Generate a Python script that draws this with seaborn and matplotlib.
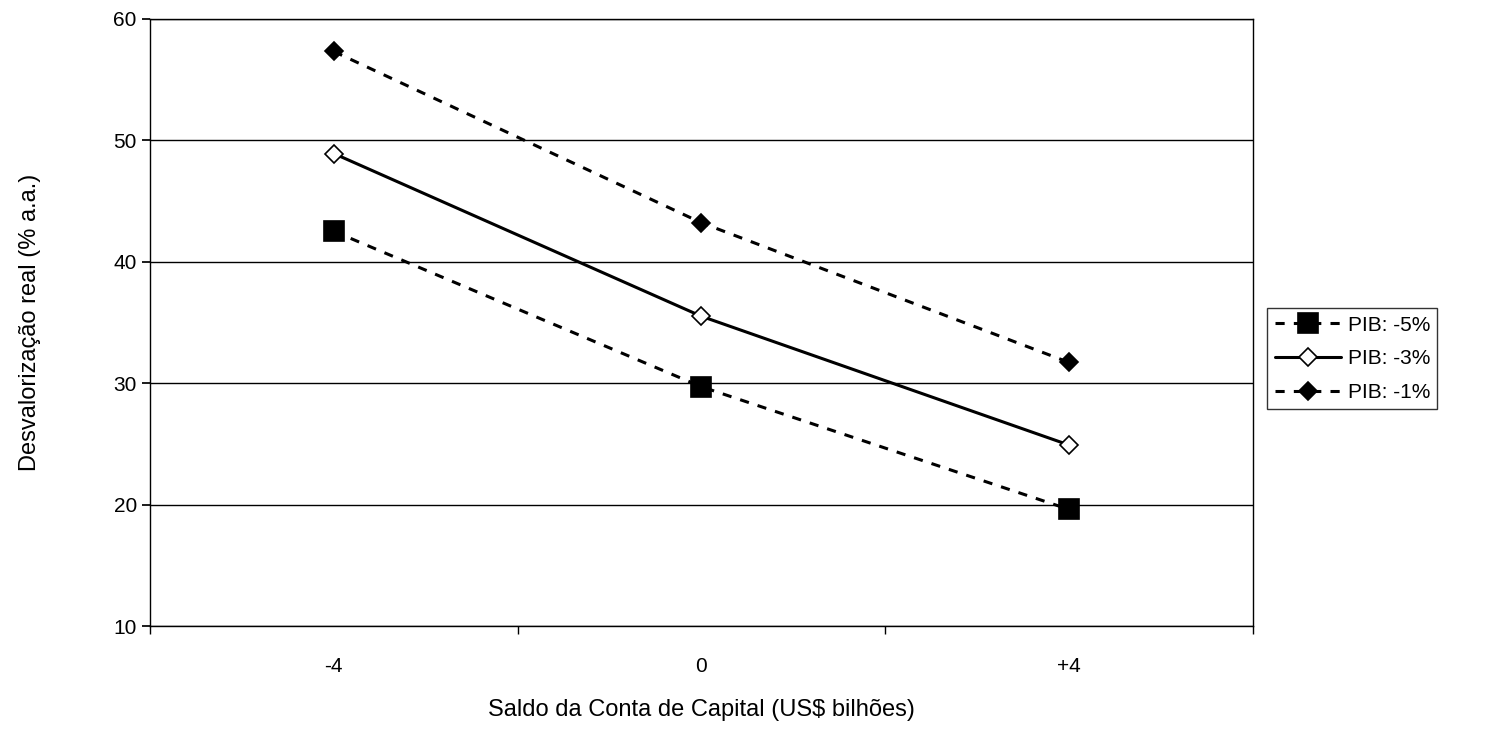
import matplotlib
matplotlib.use("Agg")
import matplotlib.pyplot as plt
import pandas as pd
import seaborn as sns

categories = ["-4", "0", "+4"]
pib_m5 = [42.5, 29.7, 19.6]
pib_m3 = [48.9, 35.5, 24.9]
pib_m1 = [57.3, 43.2, 31.7]
series_names = ["PIB: -5%", "PIB: -3%", "PIB: -1%"]

sns.set_theme(style="white")
plt.rcParams["font.family"] = ["Liberation Sans", "DejaVu Sans"]
plt.rcParams["text.color"] = "black"
plt.rcParams["axes.labelcolor"] = "black"
plt.rcParams["xtick.color"] = "black"
plt.rcParams["ytick.color"] = "black"

fig = plt.figure(figsize=(14.95, 7.48), dpi=100)
ax = fig.add_axes([0.1003, 0.163, 0.7378, 0.812])

xs = list(range(len(categories)))
styles = [
    dict(linestyle=(0, (3, 3)), marker="s", markersize=14, markerfacecolor="black"),
    dict(linestyle="-", marker="D", markersize=9, markerfacecolor="white"),
    dict(linestyle=(0, (3, 3)), marker="D", markersize=9, markerfacecolor="black"),
]
for name, vals, st in zip(series_names, [pib_m5, pib_m3, pib_m1], styles):
    df = pd.DataFrame({"x": xs, "y": vals})
    sns.lineplot(data=df, x="x", y="y", ax=ax, color="black", linewidth=2.2,
                 markeredgecolor="black", markeredgewidth=1.2, label=name, **st)

ax.set_xlim(-0.5, 2.5)
ax.set_ylim(10, 60)
ax.set_yticks(range(10, 61, 10))
ax.yaxis.grid(True, color="black", linewidth=1)
ax.set_axisbelow(True)
ax.set_xticks(xs)
ax.set_xticklabels(categories)
ax.set_xticks([-0.5, 0.5, 1.5, 2.5], minor=True)
ax.tick_params(axis="x", which="major", length=0, pad=22, labelsize=15)
ax.tick_params(axis="x", which="minor", length=6, direction="out", bottom=True)
ax.tick_params(axis="y", length=6, direction="out", left=True, labelsize=15)
for s in ax.spines.values():
    s.set_color("black")
    s.set_linewidth(1)

ax.set_xlabel("Saldo da Conta de Capital (US$ bilhões)", fontsize=17, labelpad=17)
ax.set_ylabel("Desvalorização real (% a.a.)", fontsize=17, labelpad=52)

leg = ax.legend(loc="center left", bbox_to_anchor=(1.013, 0.44), frameon=True,
                fancybox=False, edgecolor="black", fontsize=15, handlelength=3.2,
                handletextpad=0.3, borderpad=0.35, labelspacing=0.7, borderaxespad=0)
leg.get_frame().set_linewidth(1)

fig.savefig("out.png", dpi=100)
